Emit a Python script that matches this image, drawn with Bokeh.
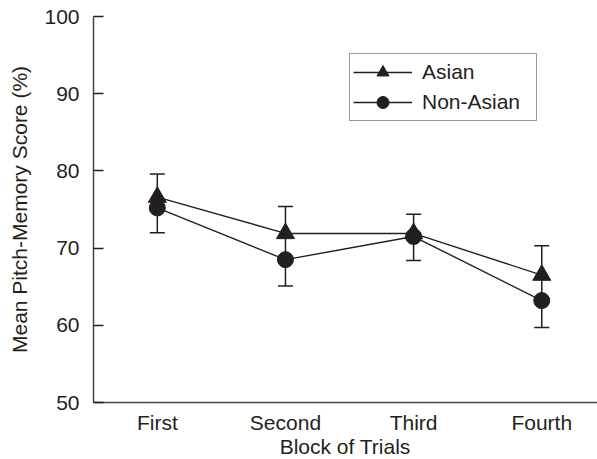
from bokeh.plotting import figure
from bokeh.layouts import column
from bokeh.models import (Range1d, FixedTicker, Whisker, TeeHead, ColumnDataSource,
                          Legend, LegendItem, Div)
from bokeh.embed import file_html
from bokeh.resources import INLINE

# ---- data ----
blocks = ["First", "Second", "Third", "Fourth"]
block_pos = [1, 2, 3, 4]
asian = [76.6, 71.9, 71.9, 66.5]
asian_err = [3.0, 3.5, 2.5, 3.8]
non_asian = [75.2, 68.5, 71.5, 63.2]
non_asian_err = [3.2, 3.4, 3.1, 3.5]
y_ticks = [50, 60, 70, 80, 90, 100]
x_title = "Block of Trials"
y_title = "Mean Pitch-Memory Score (%)"

INK = "#231f20"
FONT = "Liberation Sans"
FS = "21px"

p = figure(width=597, height=437, output_backend="svg", toolbar_location=None,
           x_range=Range1d(0.502, 4.435), y_range=Range1d(50, 100),
           min_border_left=93, min_border_right=0, min_border_top=16, min_border_bottom=35)
p.outline_line_color = None
p.xgrid.visible = False
p.ygrid.visible = False
p.background_fill_color = "white"
p.border_fill_color = "white"

# axes
p.xaxis.ticker = FixedTicker(ticks=block_pos)
p.xaxis.major_label_overrides = {pos: lab for pos, lab in zip(block_pos, blocks)}
p.xaxis.major_tick_in = 0
p.xaxis.major_tick_out = 0
p.xaxis.minor_tick_in = 0
p.xaxis.minor_tick_out = 0
p.xaxis.major_label_standoff = 8

p.yaxis.ticker = FixedTicker(ticks=y_ticks)
p.yaxis.major_tick_in = 10
p.yaxis.major_tick_out = 0
p.yaxis.minor_tick_in = 0
p.yaxis.minor_tick_out = 0
p.yaxis.axis_label = y_title
p.yaxis.major_label_standoff = 14
p.yaxis.axis_label_standoff = 10

for ax in (p.xaxis[0], p.yaxis[0]):
    ax.axis_line_color = "#444444"
    ax.axis_line_width = 1.5
    ax.major_tick_line_color = INK
    ax.major_tick_line_width = 1.5
    ax.major_label_text_font = FONT
    ax.major_label_text_font_size = FS
    ax.major_label_text_color = INK
    ax.axis_label_text_font = FONT
    ax.axis_label_text_font_size = FS
    ax.axis_label_text_font_style = "normal"
    ax.axis_label_text_color = INK

# error bars: Asian upward, Non-Asian downward
upper = [a + e for a, e in zip(asian, asian_err)]
lower = [n - e for n, e in zip(non_asian, non_asian_err)]
err_src = ColumnDataSource(dict(x=block_pos, upper=upper, lower=lower))
wh = Whisker(base="x", upper="upper", lower="lower", source=err_src, dimension="height",
             line_color=INK, line_width=1.5,
             upper_head=TeeHead(size=15, line_color=INK, line_width=1.5),
             lower_head=TeeHead(size=15, line_color=INK, line_width=1.5))
p.add_layout(wh)

src_a = ColumnDataSource(dict(x=block_pos, y=asian))
src_n = ColumnDataSource(dict(x=block_pos, y=non_asian))

la = p.line("x", "y", source=src_a, line_color=INK, line_width=1.4)
ln = p.line("x", "y", source=src_n, line_color=INK, line_width=1.4)
sa = p.scatter("x", "y", source=src_a, marker="triangle", size=18,
               fill_color=INK, line_color=INK)
sn = p.scatter("x", "y", source=src_n, marker="circle", size=16,
               fill_color=INK, line_color=INK)

legend = Legend(items=[LegendItem(label="Asian", renderers=[la, sa]),
                       LegendItem(label="Non-Asian", renderers=[ln, sn])],
                location=(256, 281))
legend.border_line_color = "#333333"
legend.border_line_width = 1.2
legend.background_fill_alpha = 1.0
legend.label_text_font = FONT
legend.label_text_font_size = FS
legend.label_text_color = INK
legend.glyph_width = 59
legend.glyph_height = 30
legend.label_height = 30
legend.label_standoff = 10
legend.spacing = 0
legend.padding = 3
legend.margin = 0
legend.label_width = 111
p.add_layout(legend)

xlab = Div(text=x_title, width=504, height=20, margin=(0, 0, 2, 93),
           styles={"font-family": FONT, "font-size": FS, "color": INK,
                   "text-align": "center", "line-height": "20px"})

layout = column(p, xlab, spacing=0)
open("out.html", "w").write(file_html(layout, INLINE))
